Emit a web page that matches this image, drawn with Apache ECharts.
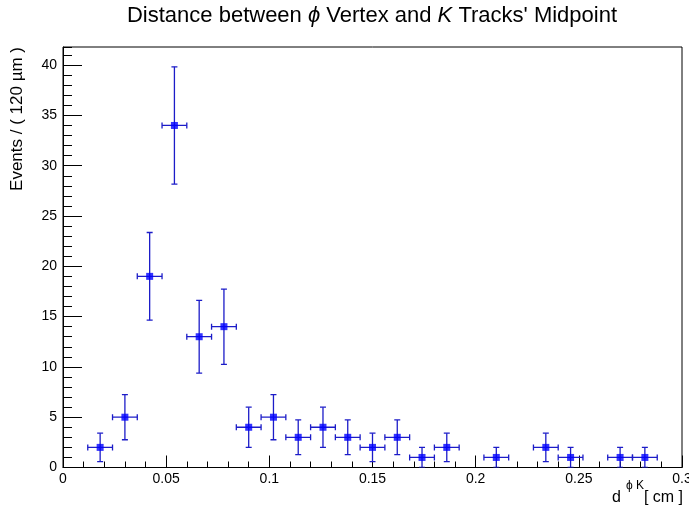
<!DOCTYPE html>
<html>
<head>
<meta charset="utf-8">
<script src="https://cdn.jsdelivr.net/npm/echarts@6/dist/echarts.min.js"></script>
<style>
html,body{margin:0;padding:0;background:#fff;}
#chart{width:689px;height:512px;}
</style>
</head>
<body>
<div id="chart"></div>
<script>
// ---- data ----
const binCenters = [0.018, 0.030, 0.042, 0.054, 0.066, 0.078, 0.090, 0.102, 0.114, 0.126,
                    0.138, 0.150, 0.162, 0.174, 0.186, 0.210, 0.234, 0.246, 0.270, 0.282];
const counts     = [2, 5, 19, 34, 13, 14, 4, 5, 3, 4,
                    3, 2, 3, 1, 2, 1, 2, 1, 1, 1];
const yErrors    = [1.41, 2.24, 4.36, 5.83, 3.61, 3.74, 2.00, 2.24, 1.73, 2.00,
                    1.73, 1.41, 1.73, 1.00, 1.41, 1.00, 1.41, 1.00, 1.00, 1.00];
const binHalfWidth = 0.006;
const xTickLabels = ['0', '0.05', '0.1', '0.15', '0.2', '0.25', '0.3'];
const yTickLabels = ['0', '5', '10', '15', '20', '25', '30', '35', '40'];

const FONT = 'Liberation Sans, Arial, Helvetica, sans-serif';
const points = binCenters.map((x, i) => [x, counts[i], yErrors[i]]);

const chart = echarts.init(document.getElementById('chart'), null, {renderer: 'canvas'});
const errColor = '#1c1cc8';

const option = {
  backgroundColor: '#fff',
  animation: false,
  grid: {left: 63, right: 7, top: 47, bottom: 44.5, outerBoundsMode: 'none', containLabel: false,
         show: true, borderColor: '#000', borderWidth: 1, backgroundColor: 'transparent'},
  xAxis: {
    type: 'value', min: 0, max: 0.3, interval: 0.05,
    axisLine: {show: true, onZero: false, lineStyle: {color: '#000', width: 1}},
    axisTick: {show: true, inside: true, length: 12, lineStyle: {color: '#000'}},
    minorTick: {show: true, splitNumber: 5, length: 6, lineStyle: {color: '#000'}},
    splitLine: {show: false},
    axisLabel: {
      color: '#000', fontFamily: FONT, fontSize: 14, margin: 5, hideOverlap: false,
      formatter: v => { const i = Math.round(v / 0.05); return xTickLabels[i] !== undefined ? xTickLabels[i] : ''; }
    }
  },
  yAxis: [{
    type: 'value', min: 0, max: 41.8, interval: 5,
    axisLine: {show: true, onZero: false, lineStyle: {color: '#000', width: 1}},
    axisTick: {show: true, inside: true, length: 19, lineStyle: {color: '#000'}},
    splitLine: {show: false},
    axisLabel: {
      color: '#000', fontFamily: FONT, fontSize: 14, margin: 6, showMaxLabel: false,
      formatter: v => { const i = Math.round(v / 5); return (Math.abs(v - i * 5) < 1e-6 && yTickLabels[i] !== undefined) ? yTickLabels[i] : ''; }
    }
  }, {
    type: 'value', min: 0, max: 41.8, interval: 1, position: 'left',
    axisLine: {show: false},
    axisTick: {show: true, inside: true, length: 9, lineStyle: {color: '#000'}},
    splitLine: {show: false},
    axisLabel: {show: false}
  }],
  graphic: [
    {type: 'text', x: 372, y: 16,
     style: {
       text: '{a|Distance between }{i|ϕ}{a| Vertex and }{i|K}{a| Tracks\' Midpoint}',
       align: 'center', verticalAlign: 'middle',
       rich: {
         a: {fontFamily: FONT, fontSize: 22, fill: '#000', fontWeight: 'normal'},
         i: {fontFamily: FONT, fontSize: 22, fontStyle: 'italic', fill: '#000', fontWeight: 'normal'}
       }
     }},
    {type: 'text', x: 17, y: 47, rotation: Math.PI / 2,
     style: {text: 'Events / ( 120 µm )', font: '17px ' + FONT, fill: '#000', align: 'right', verticalAlign: 'middle'}},
    {type: 'text', x: 683, y: 498,
     style: {text: '[ cm ]', font: '16px ' + FONT, fill: '#000', align: 'right', verticalAlign: 'middle'}},
    {type: 'text', x: 644, y: 486,
     style: {text: 'ϕ K', font: '12px ' + FONT, fill: '#000', align: 'right', verticalAlign: 'middle'}},
    {type: 'text', x: 621, y: 498,
     style: {text: 'd', font: '16px ' + FONT, fill: '#000', align: 'right', verticalAlign: 'middle'}}
  ],
  series: [{
    type: 'custom',
    coordinateSystem: 'cartesian2d',
    xAxisIndex: 0, yAxisIndex: 0,
    data: points,
    clip: true,
    renderItem: function (params, api) {
      const x = api.value(0), y = api.value(1), e = api.value(2);
      const c = api.coord([x, y]);
      const top = api.coord([x, y + e]);
      const bot = api.coord([x, Math.max(y - e, 0)]);
      const l = api.coord([x - binHalfWidth, y]);
      const r = api.coord([x + binHalfWidth, y]);
      const st = {stroke: errColor, lineWidth: 1.3};
      const cap = 3;
      return {
        type: 'group',
        children: [
          {type: 'line', shape: {x1: c[0], y1: top[1], x2: c[0], y2: bot[1]}, style: st},
          {type: 'line', shape: {x1: c[0] - cap, y1: top[1], x2: c[0] + cap, y2: top[1]}, style: st},
          {type: 'line', shape: {x1: c[0] - cap, y1: bot[1], x2: c[0] + cap, y2: bot[1]}, style: st},
          {type: 'line', shape: {x1: l[0], y1: c[1], x2: r[0], y2: c[1]}, style: st},
          {type: 'line', shape: {x1: l[0], y1: c[1] - cap, x2: l[0], y2: c[1] + cap}, style: st},
          {type: 'line', shape: {x1: r[0], y1: c[1] - cap, x2: r[0], y2: c[1] + cap}, style: st}
        ]
      };
    },
    z: 2
  }, {
    type: 'scatter',
    xAxisIndex: 0, yAxisIndex: 0,
    data: points.map(p => [p[0], p[1]]),
    symbol: 'rect',
    symbolSize: 7,
    itemStyle: {color: '#0000ff'},
    z: 3
  }]
};
chart.setOption(option);
</script>
</body>
</html>
